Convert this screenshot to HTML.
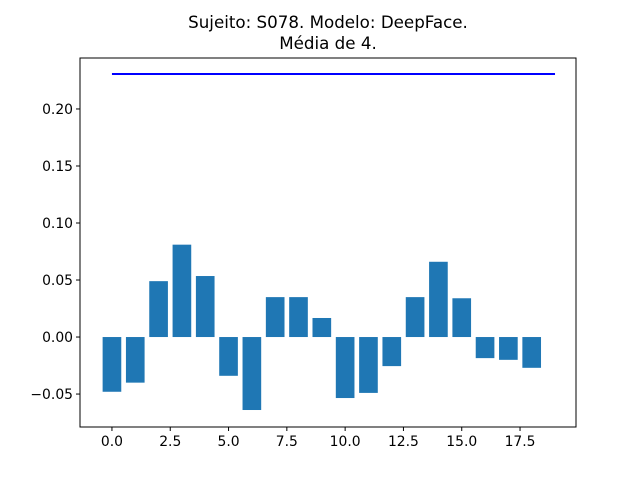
<!DOCTYPE html>
<html><head><meta charset="utf-8"><style>body{margin:0;background:#fff}svg text{font-family:"DejaVu Sans","Liberation Sans",sans-serif;}</style></head>
<body>
<svg id="chart" width="640" height="480">
<rect width="640" height="480" fill="#fff"/>
<text x="328" y="28" font-size="16.7" text-anchor="middle">Sujeito: S078. Modelo: DeepFace.</text>
<text x="328" y="49" font-size="16.7" text-anchor="middle">Média de 4.</text>
<g id="bars"></g>
<g id="axes"></g>
</svg>
<script>
const categories=[0,1,2,3,4,5,6,7,8,9,10,11,12,13,14,15,16,17,18];
const values=[-0.048,-0.040,0.049,0.081,0.0535,-0.034,-0.064,0.035,0.035,0.0167,-0.0535,-0.049,-0.0255,0.035,0.066,0.034,-0.0185,-0.020,-0.027];
const meanLineX=[0,19];
const meanValue=0.2307;
const xTicks=[0,2.5,5,7.5,10,12.5,15,17.5];
const xTickLabels=["0.0","2.5","5.0","7.5","10.0","12.5","15.0","17.5"];
const yTicks=[-0.05,0,0.05,0.1,0.15,0.2];
const yTickLabels=["−0.05","0.00","0.05","0.10","0.15","0.20"];
const L=80,R=576,T=58,B=427;
const xMin=-1.37,xMax=19.9,yMin=-0.0789,yMax=0.2447;
const sx=v=>L+(v-xMin)/(xMax-xMin)*(R-L);
const sy=v=>B-(v-yMin)/(yMax-yMin)*(B-T);
const NS="http://www.w3.org/2000/svg";
const bars=document.getElementById('bars');
categories.forEach((c,i)=>{
 const r=document.createElementNS(NS,'rect');
 const y0=sy(0),y1=sy(values[i]);
 r.setAttribute('x',sx(c-0.4));r.setAttribute('width',sx(c+0.4)-sx(c-0.4));
 r.setAttribute('y',Math.min(y0,y1));r.setAttribute('height',Math.abs(y1-y0));
 r.setAttribute('fill','#1f77b4');
 
 
 bars.appendChild(r);
});
const ln=document.createElementNS(NS,'line');
ln.setAttribute('x1',sx(meanLineX[0]));ln.setAttribute('x2',sx(meanLineX[1]));
ln.setAttribute('y1',sy(meanValue));ln.setAttribute('y2',sy(meanValue));
ln.setAttribute('stroke','#0000ff');ln.setAttribute('stroke-width','2');


bars.appendChild(ln);
const ax=document.getElementById('axes');
const fr=document.createElementNS(NS,'rect');
fr.setAttribute('x',L);fr.setAttribute('y',T);fr.setAttribute('width',R-L);fr.setAttribute('height',B-T);
fr.setAttribute('fill','none');fr.setAttribute('stroke','#000');fr.setAttribute('stroke-width','1');


ax.appendChild(fr);
xTicks.forEach((t,i)=>{
 const x=sx(t);
 const l=document.createElementNS(NS,'line');
 l.setAttribute('x1',x);l.setAttribute('x2',x);l.setAttribute('y1',B);l.setAttribute('y2',B+4);l.setAttribute('stroke','#000');
 
 
 ax.appendChild(l);
 const tx=document.createElementNS(NS,'text');
 tx.setAttribute('x',x);tx.setAttribute('y',B+19);tx.setAttribute('font-size','13.9');tx.setAttribute('text-anchor','middle');
 tx.textContent=xTickLabels[i];
 
 
 ax.appendChild(tx);
});
yTicks.forEach((t,i)=>{
 const y=sy(t);
 const l=document.createElementNS(NS,'line');
 l.setAttribute('x1',L-4);l.setAttribute('x2',L);l.setAttribute('y1',y);l.setAttribute('y2',y);l.setAttribute('stroke','#000');
 
 
 ax.appendChild(l);
 const tx=document.createElementNS(NS,'text');
 tx.setAttribute('x',L-7);tx.setAttribute('y',y+5);tx.setAttribute('font-size','13.9');tx.setAttribute('text-anchor','end');
 tx.textContent=yTickLabels[i];
 
 
 ax.appendChild(tx);
});
</script>
</body></html>
